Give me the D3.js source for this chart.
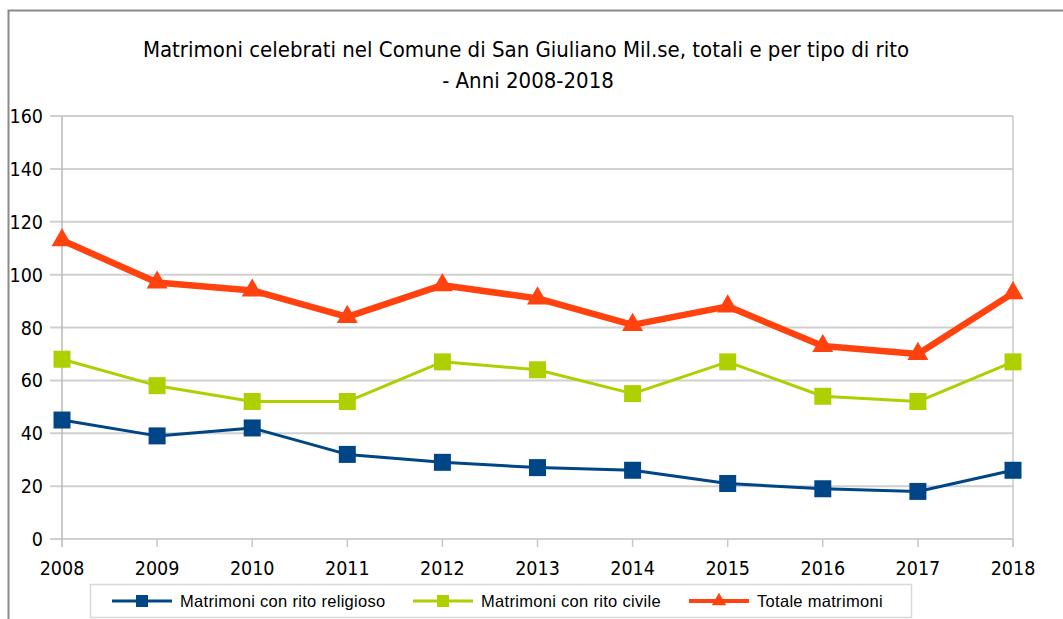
<!DOCTYPE html>
<html>
<head>
<meta charset="utf-8">
<script src="https://cdn.jsdelivr.net/npm/d3@7"></script>
<style>
  body { margin: 0; background: #fff; }
  svg { display: block; }
</style>
</head>
<body>
<div id="chart"></div>
<script>
// data
const years = [2008, 2009, 2010, 2011, 2012, 2013, 2014, 2015, 2016, 2017, 2018];
const religiosi = [45, 39, 42, 32, 29, 27, 26, 21, 19, 18, 26];
const civili = [68, 58, 52, 52, 67, 64, 55, 67, 54, 52, 67];
const totali = [113, 97, 94, 84, 96, 91, 81, 88, 73, 70, 93];
const yTicks = [0, 20, 40, 60, 80, 100, 120, 140, 160];
const seriesNames = ["Matrimoni con rito religioso", "Matrimoni con rito civile", "Totale matrimoni"];

const W = 1063, H = 619;

const svg = d3.select("#chart").append("svg")
    .attr("width", W)
    .attr("height", H);

// outer frame (only top and left visible)
svg.append("path")
    .attr("d", `M8.5,${H} V10.5 H${W}`)
    .attr("fill", "none")
    .attr("stroke", "#8a8a8a")
    .attr("stroke-width", 2);

// title
const title = svg.append("text")
    .attr("text-anchor", "middle")
    .attr("font-family", "DejaVu Sans Condensed, DejaVu Sans")
    .attr("font-size", 22)
    .attr("fill", "#000");
title.append("tspan").attr("x", 526).attr("y", 57)
    .text("Matrimoni celebrati nel Comune di San Giuliano Mil.se, totali e per tipo di rito");
title.append("tspan").attr("x", 528).attr("y", 88)
    .text("- Anni 2008-2018");

const x = d3.scalePoint()
    .domain(years)
    .range([62, 1013]);

const y = d3.scaleLinear()
    .domain([0, 160])
    .range([539, 116]);

// horizontal gridlines with ticks
svg.append("g")
    .selectAll("line")
    .data(yTicks)
    .join("line")
    .attr("x1", 50)
    .attr("x2", 1013)
    .attr("y1", d => y(d))
    .attr("y2", d => y(d))
    .attr("stroke", "#d0d0d0")
    .attr("stroke-width", 2);

// y labels
svg.append("g")
    .selectAll("text")
    .data(yTicks)
    .join("text")
    .attr("x", 43)
    .attr("y", d => y(d))
    .attr("dy", "0.36em")
    .attr("text-anchor", "end")
    .attr("font-family", "DejaVu Sans Condensed, DejaVu Sans")
    .attr("font-size", 19.5)
    .attr("fill", "#000")
    .text(d => d);

// vertical lines: axis at left, frame at right, x ticks
svg.append("line")
    .attr("x1", x(2008)).attr("x2", x(2008))
    .attr("y1", 116).attr("y2", 547)
    .attr("stroke", "#b8b8b8").attr("stroke-width", 1.5);
svg.append("line")
    .attr("x1", x(2018)).attr("x2", x(2018))
    .attr("y1", 116).attr("y2", 547)
    .attr("stroke", "#c8c8c8").attr("stroke-width", 1.5);

svg.append("g")
    .selectAll("line")
    .data(years)
    .join("line")
    .attr("x1", d => x(d))
    .attr("x2", d => x(d))
    .attr("y1", 539)
    .attr("y2", 547)
    .attr("stroke", "#c8c8c8")
    .attr("stroke-width", 1.5);

// x labels
svg.append("g")
    .selectAll("text")
    .data(years)
    .join("text")
    .attr("x", d => x(d))
    .attr("y", 575)
    .attr("text-anchor", "middle")
    .attr("font-family", "DejaVu Sans Condensed, DejaVu Sans")
    .attr("font-size", 19.5)
    .attr("fill", "#000")
    .text(d => d);

const series = [
    { name: seriesNames[0], values: religiosi, color: "#004586", width: 3, marker: "square" },
    { name: seriesNames[1], values: civili, color: "#aecf00", width: 3, marker: "square" },
    { name: seriesNames[2], values: totali, color: "#ff420e", width: 6.5, marker: "triangle" }
];

const line = d3.line()
    .x((d, i) => x(years[i]))
    .y(d => y(d));

const sqSym = d3.symbol().type(d3.symbolSquare).size(17 * 17);
const triSym = d3.symbol().type(d3.symbolTriangle).size(190);

series.forEach(s => {
    svg.append("path")
        .datum(s.values)
        .attr("fill", "none")
        .attr("stroke", s.color)
        .attr("stroke-width", s.width)
        .attr("stroke-linejoin", "round")
        .attr("d", line);

    svg.append("g")
        .selectAll("path")
        .data(s.values)
        .join("path")
        .attr("transform", (d, i) => `translate(${x(years[i])},${y(d)})`)
        .attr("d", s.marker === "square" ? sqSym : triSym)
        .attr("fill", s.color);
});

// legend
const legend = svg.append("g");
legend.append("rect")
    .attr("x", 90.5).attr("y", 584.5)
    .attr("width", 821).attr("height", 33)
    .attr("fill", "#fff")
    .attr("stroke", "#d8d8d8")
    .attr("stroke-width", 1.5);

const legendX = [112, 413, 689];
const legendSym = [
    d3.symbol().type(d3.symbolSquare).size(12 * 12),
    d3.symbol().type(d3.symbolSquare).size(12 * 12),
    d3.symbol().type(d3.symbolTriangle).size(90)
];

series.forEach((s, i) => {
    const g = legend.append("g").attr("transform", `translate(${legendX[i]},601)`);
    g.append("line")
        .attr("x1", 0).attr("x2", 60)
        .attr("stroke", s.color)
        .attr("stroke-width", i === 2 ? 4 : 3);
    g.append("path")
        .attr("transform", "translate(30,0)")
        .attr("d", legendSym[i])
        .attr("fill", s.color);
    g.append("text")
        .attr("x", 68)
        .attr("dy", "0.36em")
        .attr("font-family", "Liberation Sans, Arial")
        .attr("font-size", 16.5)
        .attr("letter-spacing", 0.3)
        .attr("fill", "#000")
        .text(s.name);
});
</script>
</body>
</html>
